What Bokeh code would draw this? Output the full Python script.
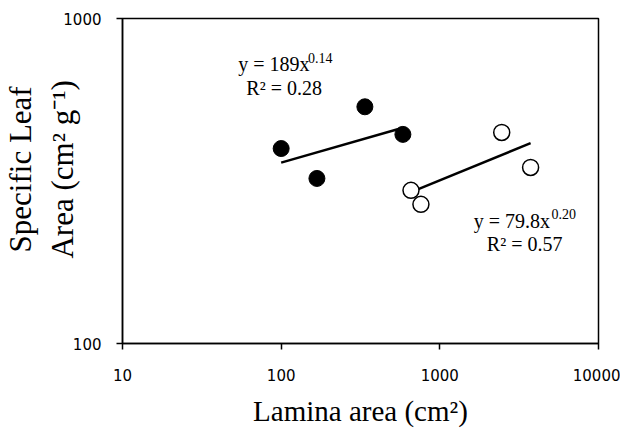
from bokeh.plotting import figure
from bokeh.models import Label, FixedTicker
from bokeh.embed import file_html
from bokeh.resources import INLINE
import numpy as np

# Data
filled_x = [100, 168, 337, 585]
filled_y = [398, 322, 535, 440]
open_x = [658, 760, 2455, 3733]
open_y = [296, 268, 446, 348]

fit1_a, fit1_b = 189.0, 0.14
fit2_a, fit2_b = 79.8, 0.20

x_ticks = [10, 100, 1000, 10000]
y_ticks = [100, 1000]

p = figure(width=620, height=432, x_axis_type="log", y_axis_type="log",
           x_range=(10, 10000), y_range=(100, 1000),
           output_backend="svg", toolbar_location=None,
           min_border_left=121, min_border_right=22, min_border_top=18, min_border_bottom=89)
p.grid.visible = False
p.outline_line_color = "black"
p.outline_line_width = 1.5
p.background_fill_color = "white"
p.border_fill_color = "white"

for ax in (p.xaxis[0], p.yaxis[0]):
    ax.axis_line_width = 1.5
    ax.axis_line_color = "black"
    ax.major_tick_line_width = 1.5
    ax.major_tick_in = 0
    ax.major_tick_out = 6
    ax.minor_tick_line_color = None
    ax.major_label_text_font = "DejaVu Sans"
    ax.major_label_text_font_size = "15px"
    ax.major_label_text_color = "black"
    ax.axis_label_text_font = "Liberation Serif"
    ax.axis_label_text_font_style = "normal"
    ax.axis_label_text_color = "black"

p.xaxis.ticker = FixedTicker(ticks=x_ticks)
p.yaxis.ticker = FixedTicker(ticks=y_ticks)
p.xaxis.major_label_overrides = {t: str(t) for t in x_ticks}
p.yaxis.major_label_overrides = {t: str(t) for t in y_ticks}
p.xaxis.major_label_standoff = 19
p.yaxis.major_label_standoff = 15
p.xaxis.axis_label = "Lamina area (cm²)"
p.xaxis.axis_label_text_font_size = "29px"
p.xaxis.axis_label_standoff = 11
nb = "\u00a0\u00a0\u00a0"
p.yaxis.axis_label = nb + "Specific Leaf\n" + nb + "Area (cm² g⁻¹)"
p.yaxis.axis_label_text_font_size = "31px"
p.yaxis.axis_label_text_line_height = 1.2
p.yaxis.axis_label_standoff = -20

# Trend lines
x1 = np.array([min(filled_x), max(filled_x)], dtype=float)
x2 = np.array([min(open_x), max(open_x)], dtype=float)
p.line(x1, fit1_a * x1 ** fit1_b, line_color="black", line_width=2.5)
p.line(x2, fit2_a * x2 ** fit2_b, line_color="black", line_width=2.5)

p.scatter(filled_x, filled_y, size=16, fill_color="black", line_color="black")
p.scatter(open_x, open_y, size=16, fill_color="white", line_color="black", line_width=1.5)

def px_x(px):
    return 10 ** (1 + (px - 121) / 159)

def px_y(py):
    return 10 ** (3 - (py - 18) / 325)

def lab(px, py, text, size, align="left"):
    p.add_layout(Label(x=px_x(px), y=px_y(py), text=text, text_font="Liberation Serif",
                       text_font_size=size, text_color="black",
                       text_align=align, text_baseline="middle"))

# equations
lab(237, 63, "y = 189x", "20px")
lab(307, 57, "0.14", "14px")
lab(283, 87, "R² = 0.28", "20px", "center")
lab(473, 220, "y = 79.8x", "20px")
lab(551, 213, "0.20", "14px")
lab(524, 243, "R² = 0.57", "20px", "center")

open("out.html", "w").write(file_html(p, INLINE))
